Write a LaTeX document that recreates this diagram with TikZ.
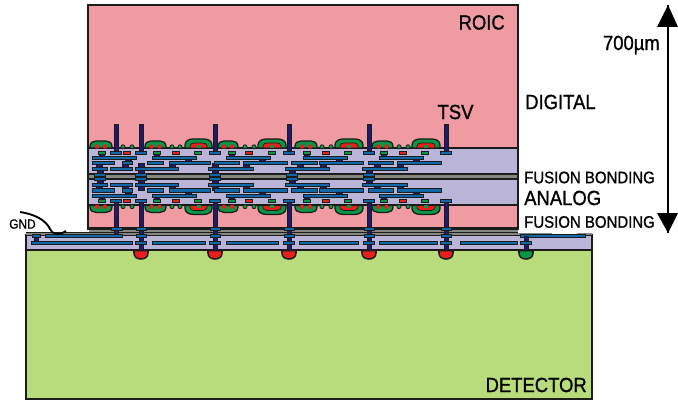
\documentclass[tikz,border=0pt]{standalone}
\usepackage{fontspec}
\setmainfont{Liberation Sans}
\newfontfamily\narrowfont[FakeStretch=0.9,FakeBold=1]{Liberation Sans}
\usepackage{tikz}
\definecolor{roicpink}{RGB}{240,155,162}
\definecolor{bandlilac}{RGB}{186,180,216}
\definecolor{detgreen}{RGB}{184,220,124}
\definecolor{barblue}{RGB}{16,104,168}
\definecolor{vianavy}{RGB}{32,26,110}
\definecolor{domegreen}{RGB}{6,150,70}
\definecolor{domered}{RGB}{235,30,28}
\definecolor{bondgray}{RGB}{135,135,130}
\definecolor{inkdark}{RGB}{28,28,28}
\tikzset{
  layerbox/.style={draw=inkdark, line width=1.9pt},
  barline/.style={draw=inkdark, fill=barblue, line width=0.6pt},
  viaconn/.style={draw=inkdark, fill=vianavy, line width=0.3pt},
  gatebox/.style={draw=inkdark, line width=0.6pt},
  labeltext/.style={font=\narrowfont\fontsize{17.5}{17.5}\selectfont, inner sep=0pt, text=black},
  bondtext/.style={font=\narrowfont\fontsize{14.2}{14.2}\selectfont, inner sep=0pt, text=black}
}
% one half of the stacked wiring, drawn for the upper band
\newcommand{\bandwiring}{
  \foreach \x in {128,188,262,339,416}
    \draw[viaconn] (\x-3,158) rectangle (\x+3,163);
  \foreach \x in {99,125,141,172,215,246,300,323,377,400}
    \draw[viaconn] (\x-3,163) rectangle (\x+3,169);
  \foreach \x in {102,157,232,307,384}
    \draw[viaconn] (\x-2.5,154) rectangle (\x+2.5,157);
  \foreach \xa/\xb in {92/136,152/196,226/270,303/347,379/423}
    \draw[barline] (\xa,156) rectangle (\xb,159.4);
  \foreach \xa/\xb in {92/114,122/132,147/163,169/210,214/239,243/287,291/317,319/363,368/393,397/441}
    \draw[barline] (\xa,161.3) rectangle (\xb,164.7);
  \foreach \xa/\xb in {92/107,110/132,135/178,208/253,285/329,362/407}
    \draw[barline] (\xa,167) rectangle (\xb,170.4);
  \foreach \x in {102,157,198,232,272,307,348,384,425}
    \draw[gatebox, fill=domegreen] (\x-3.7,151.5) rectangle (\x+3.7,154);
  \foreach \x in {127,176,249,326,403}
    \draw[gatebox, fill=domered] (\x-3.7,151.5) rectangle (\x+3.7,154);
  \foreach \x in {116,141,215,289,369,446}
    \draw[barline] (\x-5.5,151) rectangle (\x+5.5,154.5);
  % small domes
  \foreach \xa/\xb in {90/112,145/166,218/238,295/317,372/393} {
    \draw[gatebox, fill=domegreen, line width=1.1pt] (\xa,148) -- (\xa,146.5) .. controls (\xa,142.5) and (\xa+3,141) .. (\xa+6,141)
      -- (\xb-6,141) .. controls (\xb-3,141) and (\xb,142.5) .. (\xb,146.5) -- (\xb,148) -- cycle;
    \fill[domered] (\xa/2+\xb/2-4,146.5) circle (2.2);
    \fill[domered] (\xa/2+\xb/2+4,146.5) circle (2.2);
  }
  % large domes
  \foreach \xa/\xb in {185/212,258/286,335/363,412/440} {
    \draw[gatebox, fill=domegreen, line width=1.1pt] (\xa,148) -- (\xa,145) .. controls (\xa,141) and (\xa+4,139) .. (\xa+8,139)
      -- (\xb-8,139) .. controls (\xb-4,139) and (\xb,141) .. (\xb,145) -- (\xb,148) -- cycle;
    \draw[gatebox, fill=domered] (\xa+5,148) -- (\xa+5,146) .. controls (\xa+5,144) and (\xa+7,143) .. (\xa+9,143)
      -- (\xb-9,143) .. controls (\xb-7,143) and (\xb-5,144) .. (\xb-5,146) -- (\xb-5,148) -- cycle;
    \fill[domegreen] (\xa/2+\xb/2-2,145) rectangle (\xa/2+\xb/2+2,148);
  }
  % small contacts
  \foreach \x in {123,132,172,180,245,254,322,331,399,408}
    \draw[gatebox, fill=domegreen] (\x,146.8) circle (2.1);
}
\begin{document}
\begin{tikzpicture}[x=0.03cm, y=-0.03cm]
\useasboundingbox (0,0) rectangle (678,400);
% detector and its wiring layer
\draw[layerbox, fill=detgreen] (26,250) rectangle (592,399);
\draw[layerbox, fill=bandlilac] (26,235) rectangle (592,250);
\fill[bondgray] (26,232.5) rectangle (518,235);
\draw[inkdark, line width=1pt] (26,232.5) -- (518,232.5);
\fill[bondgray] (518,232.5) rectangle (552,235);
\fill[bondgray] (577,232.5) rectangle (592,235);
% ROIC
\draw[layerbox, fill=roicpink] (88,5) rectangle (518,228.5);
\draw[layerbox, fill=bandlilac] (88,148) rectangle (518,174);
\draw[layerbox, fill=bandlilac] (88,179) rectangle (518,205);
\fill[bondgray] (89,175) rectangle (517,178);
\fill[bondgray] (89,229.5) rectangle (518,232);
\bandwiring
\begin{scope}[shift={(0,353.4)}, yscale=-1]
  \bandwiring
\end{scope}
% fusion pads between the bands
\foreach \x in {100,141,215,292,369} {
  \draw[viaconn] (\x-3,170) rectangle (\x+3,183);
  \draw[barline] (\x-5.5,173.6) rectangle (\x+5.5,176.6);
  \draw[barline] (\x-5.5,177) rectangle (\x+5.5,180);
}
% TSV
\foreach \x in {116,141,215,289,369,446} {
  \draw[viaconn] (\x-2,124) rectangle (\x+2,151);
  \draw[viaconn] (\x-2,202) rectangle (\x+2,229);
  \draw[barline] (\x-5.5,151) rectangle (\x+5.5,154.5);
  \draw[barline] (\x-5.5,199) rectangle (\x+5.5,202.4);
}
% detector wiring
\foreach \xa/\xb in {31/132,152/205,226/278,299/358,379/437,460/517}
  \draw[barline] (\xa,241) rectangle (\xb,244.6);
\draw[viaconn] (34,237) rectangle (38,241);
\draw[viaconn] (114,229) rectangle (118,234.8);
\draw[barline] (45,234.3) rectangle (122,237.6);
\draw[barline] (520,234.3) rectangle (585,237.6);
\draw[barline] (32,234.3) rectangle (40,237.6);
\draw[barline] (111,227.2) rectangle (122,230.2);
\foreach \x/\cc in {141/domered,215/domered,289/domered,369/domered,446/domered,526/domegreen} {
  \draw[gatebox, fill=\cc, line width=1.3pt] (\x-7,250.5) -- (\x-7,253) .. controls (\x-7,257) and (\x-4,259) .. (\x,259)
    .. controls (\x+4,259) and (\x+7,257) .. (\x+7,253) -- (\x+7,250.5) -- cycle;
  \draw[viaconn] (\x-2,236) rectangle (\x+2,250);
  \draw[barline] (\x-5.5,241) rectangle (\x+5.5,244.6);
}
\foreach \x in {141,215,289,369,446} {
  \draw[viaconn] (\x-2,229) rectangle (\x+2,236);
  \draw[barline] (\x-5,227.2) rectangle (\x+5,230.2);
  \draw[barline] (\x-5,234.3) rectangle (\x+5,237.6);
}
% GND wire
\coordinate (gndstart) at (20,212);
\coordinate (gndend) at (66,231);
\draw[black, line width=1.6pt] (gndstart) .. controls (34,214) and (46,220) .. (50,229)
  .. controls (52,234) and (58,236) .. (gndend);
% dimension arrow
\coordinate (arrowtop) at (668,5);
\coordinate (arrowbottom) at (668,233);
\draw[black, line width=2pt] (arrowtop) -- (arrowbottom);
\fill[black] (arrowtop) -- (657,27) -- (678,27) -- cycle;
\fill[black] (arrowbottom) -- (657,213) -- (678,213) -- cycle;
% labels
\node[labeltext, anchor=east] (roiclabel) at (505,22.5) {ROIC};
\node[labeltext, anchor=west] (digitallabel) at (525,102) {DIGITAL};
\node[labeltext, anchor=center] (tsvlabel) at (455.5,112) {TSV};
\node[labeltext, anchor=east] (umlabel) at (660,45) {700µm};
\node[bondtext, anchor=west] (fusiontop) at (524,177.5) {FUSION BONDING};
\node[labeltext, anchor=west] (analoglabel) at (524,198) {ANALOG};
\node[bondtext, anchor=west] (fusionbottom) at (524,222) {FUSION BONDING};
\node[labeltext, anchor=east] (detectorlabel) at (587,385) {DETECTOR};
\node[font=\narrowfont\fontsize{11.3}{11.3}\selectfont, inner sep=0pt, anchor=west] (gndlabel) at (9,224) {GND};
\end{tikzpicture}
\end{document}
